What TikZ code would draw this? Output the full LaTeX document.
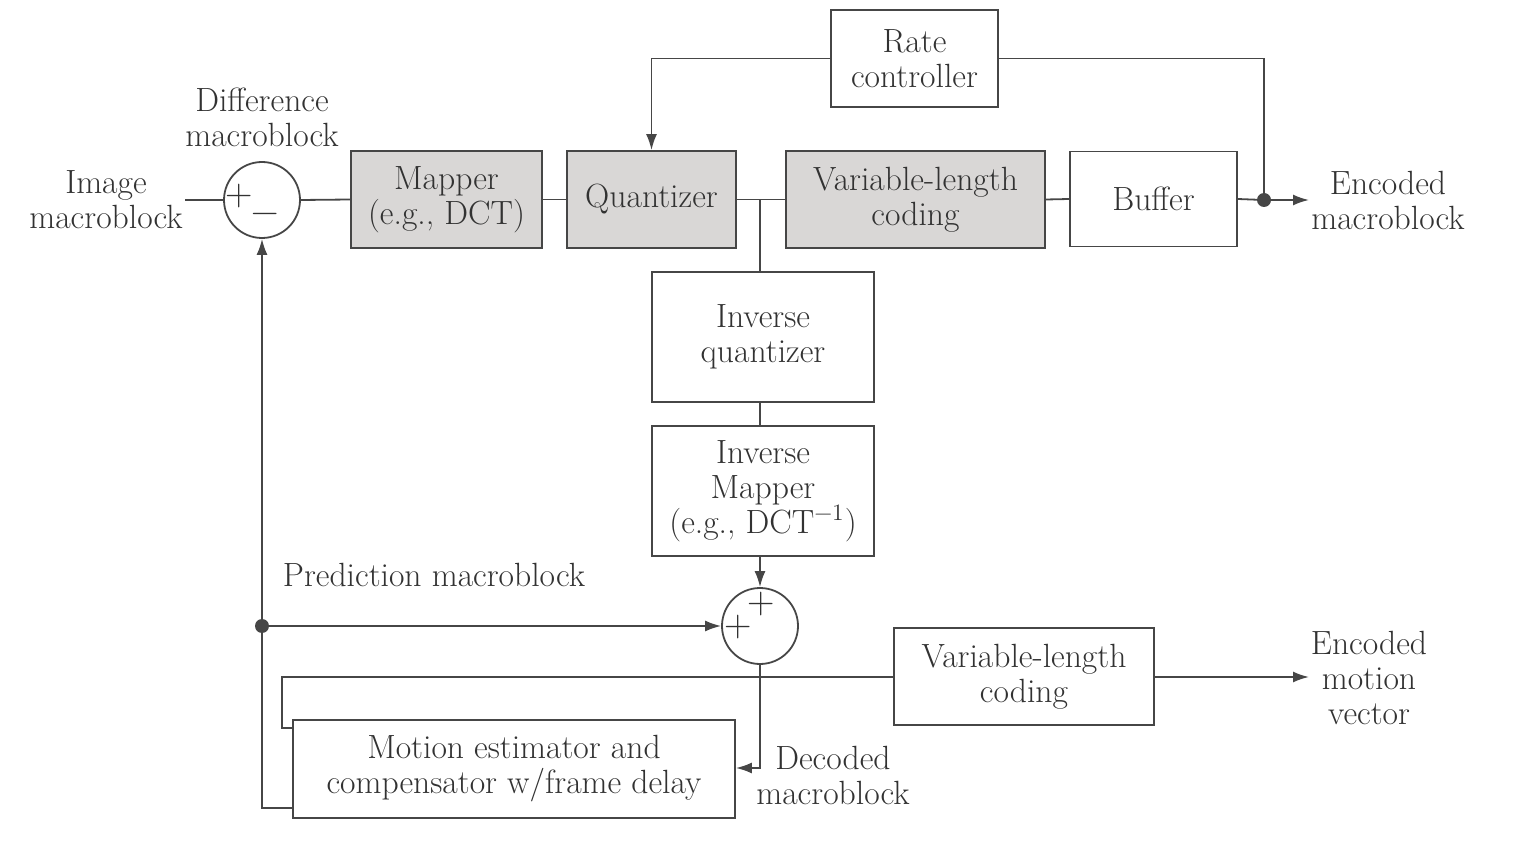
\documentclass[tikz,border=0pt]{standalone}
\usepackage{fontspec}
\usetikzlibrary{arrows.meta}
\definecolor{lc}{RGB}{70,70,70}
\definecolor{txt}{RGB}{50,50,50}
\definecolor{boxgray}{RGB}{217,215,214}
\newcommand{\dfont}{\fontsize{16.8}{17.5}\selectfont}
\newcommand{\sgnfont}{\fontsize{19}{19}\selectfont}
\begin{document}
\begin{tikzpicture}[x=0.5pt,y=-0.5pt,
 blk/.style={draw=lc, line width=0.9pt, inner sep=0pt, align=center, font=\dfont, text=txt},
 gblk/.style={blk, fill=boxgray},
 sumj/.style={circle, draw=lc, line width=0.9pt, minimum size=38pt, inner sep=0pt},
 wire/.style={draw=lc, line width=0.9pt},
 arr/.style={wire, -{Latex[length=8pt,width=5.5pt]}},
 lbl/.style={align=center, font=\dfont, text=txt, inner sep=1pt},
 sgn/.style={font=\sgnfont, text=txt, inner sep=0pt},
 jdot/.style={circle, fill=lc, minimum size=7pt, inner sep=0pt},
]
\useasboundingbox (0,0) rectangle (1528,845);
% top row
\node[blk, minimum width=83.5pt, minimum height=48.5pt] (rate) at (914.5,58.5) {Rate\\controller};
\node[gblk, minimum width=95.5pt, minimum height=48.5pt] (map) at (446.5,199.5) {Mapper\\(e.g., DCT)};
\node[gblk, minimum width=84.5pt, minimum height=48.5pt] (quant) at (651.5,199.5) {Quantizer};
\node[gblk, minimum width=129.5pt, minimum height=48.5pt] (vlc) at (915.5,199.5) {Variable-length\\coding};
\node[blk, minimum width=83.5pt, minimum height=47.5pt] (buf) at (1153.5,199) {Buffer};
\node[sumj] (diff) at (262,200) {};
\node[sgn] (p1) at (239,196) {+};
\node[sgn] (m1) at (265,218) {−};
\node[lbl] (img) at (106,200) {Image\\macroblock};
\node[lbl] (difflbl) at (262,117) {Difference\\macroblock};
\node[lbl] (enc) at (1388,200) {Encoded\\macroblock};
\node[jdot] (d1) at (1264,200) {};
\coordinate (encin) at (1309,200);
\draw[wire] (img.east) -- (diff.west);
\draw[wire] (diff.east) -- (map.west);
\draw[wire] (map.east) -- (quant.west);
\draw[wire] (quant.east) -- (vlc.west);
\draw[wire] (vlc.east) -- (buf.west);
\draw[wire] (buf.east) -- (d1.center);
\draw[arr] (d1.center) -- (encin);
\draw[wire] (d1.center) |- (rate.east);
\draw[arr] (rate.west) -| (quant.north);
% inverse path
\coordinate (br) at (760,200);
\node[blk, minimum width=111pt, minimum height=65pt] (iq) at (763,337) {Inverse\\quantizer};
\node[blk, minimum width=111pt, minimum height=65pt] (im) at (763,491) {Inverse\\Mapper\\(e.g., DCT\textsuperscript{−1})};
\draw[wire] (br) -- (br |- iq.north);
\draw[wire] (iq.south -| br) -- (im.north -| br);
\node[sgn] (p2) at (761,604) {+};
\node[sgn] (p3) at (738,627) {+};
\node[sumj] (add) at (760,626) {};
\draw[arr] (im.south -| add) -- (add.north);
\node[jdot] (d2) at (262,626) {};
\draw[arr] (d2.center) -- (add.west);
\node[lbl] (pred) at (434,575) {Prediction macroblock};
% motion estimator
\node[blk, minimum width=221pt, minimum height=49pt] (me) at (514,769) {Motion estimator and\\compensator w/frame delay};
\coordinate (c1) at (262,808);
\draw[arr] (me.west |- c1) -- (c1) -- (diff.south);
\coordinate (c2) at (760,768);
\draw[arr] (add.south) -- (c2) -- (me.east |- c2);
\node[lbl] (dec) at (833,775) {Decoded\\macroblock};
\node[blk, minimum width=130pt, minimum height=48.5pt] (vlc2) at (1024,676.5) {Variable-length\\coding};
\coordinate (c3) at (282,677);
\coordinate (c4) at (282,728);
\draw[wire] (vlc2.west |- c3) -- (c3) -- (c4) -- (me.west |- c4);
\node[lbl] (emv) at (1369,678) {Encoded\\motion\\vector};
\coordinate (c5) at (1309,677);
\draw[arr] (vlc2.east |- c5) -- (c5);
\end{tikzpicture}
\end{document}
